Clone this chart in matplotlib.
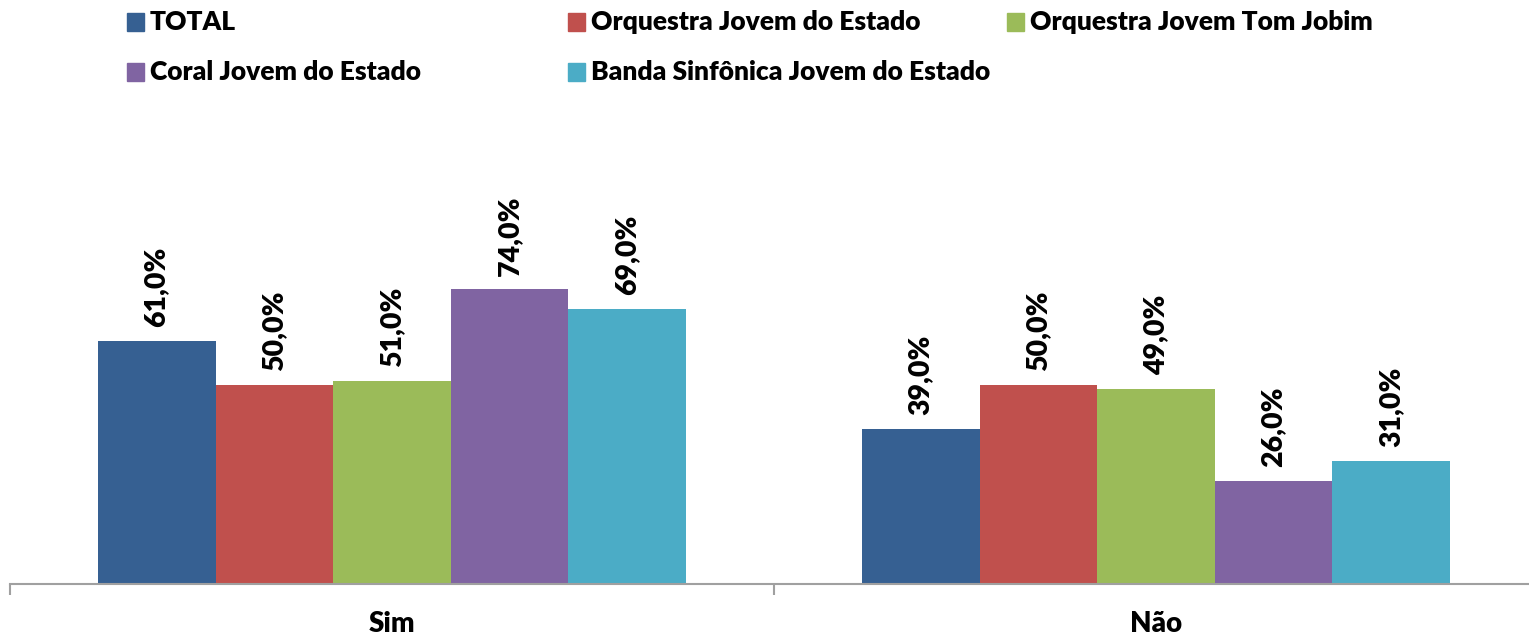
import matplotlib
matplotlib.use("Agg")
import matplotlib.pyplot as plt
from matplotlib.patches import Rectangle
import numpy as np

categories = ["Sim", "Não"]
series_names = [
    "TOTAL",
    "Orquestra Jovem do Estado",
    "Orquestra Jovem Tom Jobim",
    "Coral Jovem do Estado",
    "Banda Sinfônica Jovem do Estado",
]
total = [61.0, 39.0]
orquestra_estado = [50.0, 50.0]
orquestra_tom_jobim = [51.0, 49.0]
coral = [74.0, 26.0]
banda = [69.0, 31.0]
series_values = [total, orquestra_estado, orquestra_tom_jobim, coral, banda]
colors = ["#366092", "#C0504D", "#9BBB59", "#8064A2", "#4BACC6"]

FONT = ["Lato", "DejaVu Sans"]
plt.rcParams["font.family"] = FONT
WEIGHT = "heavy"

W, H = 1529, 635
fig = plt.figure(figsize=(W / 100, H / 100), dpi=100)

# axes: baseline at y=584 px, category width 764 px starting at x=10
base_px = 584
px_per_unit = 3.98
ymax = 100
left_px = 10
cat_w = 764
ax_h_px = ymax * px_per_unit
ax = fig.add_axes([left_px / W, (H - base_px) / H,
                   (2 * cat_w) / W, ax_h_px / H])
ax.set_xlim(-0.5, 1.5)
ax.set_ylim(0, ymax)

x = np.arange(len(categories))
bw = 0.154
for i, (vals, col) in enumerate(zip(series_values, colors)):
    pos = x + (i - 2) * bw
    bars = ax.bar(pos, vals, width=bw, color=col, edgecolor="none", zorder=2)
    for b, v in zip(bars, vals):
        ax.annotate(f"{v:.1f}%".replace(".", ","),
                    xy=(b.get_x() + b.get_width() / 2, v),
                    xytext=(0, 10), textcoords="offset points",
                    rotation=90, ha="center", va="bottom",
                    fontsize=20.5, fontweight=WEIGHT, color="black")

for s in ["top", "right", "left"]:
    ax.spines[s].set_visible(False)
ax.spines["bottom"].set_color("#A0A0A0")
ax.spines["bottom"].set_linewidth(1.5)
ax.set_yticks([])
ax.set_xticks([-0.5, 0.5, 1.5])
ax.set_xticklabels([])
ax.tick_params(axis="x", direction="out", length=8, width=1.5, color="#A0A0A0")
label_y = (base_px - 632) / ax_h_px
for xi, cat in zip(x, categories):
    ax.text(xi, label_y, cat, transform=ax.get_xaxis_transform(),
            ha="center", va="baseline", fontsize=20, fontweight=WEIGHT)

# legend laid out in two rows
leg_pos = [(127, 22), (568, 22), (1007, 22), (127, 72), (568, 72)]
sq = 17
for (lx, ly), name, col in zip(leg_pos, series_names, colors):
    fig.add_artist(Rectangle((lx / W, (H - ly - sq / 2) / H), sq / W, sq / H,
                             transform=fig.transFigure, color=col))
    fig.text((lx + 23) / W, (H - ly) / H, name, ha="left", va="center",
             fontsize=19, fontweight=WEIGHT)

fig.savefig("out.png", dpi=100)
